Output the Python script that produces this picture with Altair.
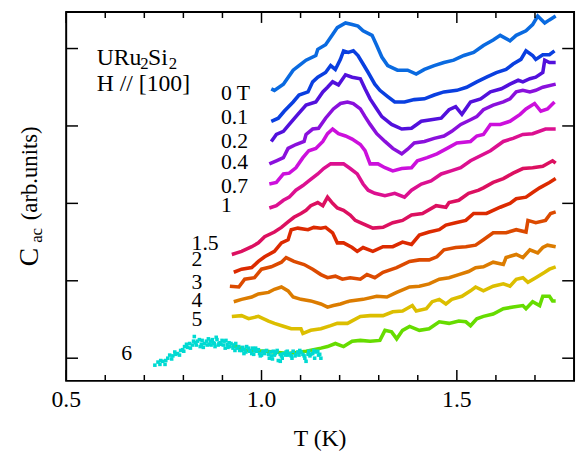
import altair as alt
import pandas as pd

FONT = "'Liberation Serif', 'Times New Roman', Times, serif"

# ---- data: temperature T (K) and C_ac (arb. units, curves offset) ----
T_00 = [1.025,1.033,1.056,1.081,1.096,1.114,1.139,1.144,1.164,1.182,1.194,1.215,1.232,1.247,1.260,1.283,1.295,1.308,1.323,1.348,1.374,1.396,1.417,1.442,1.467,1.492,1.518,1.543,1.568,1.593,1.611,1.636,1.652,1.677,1.694,1.707,1.725,1.737,1.753]
C_00 = [3.48,3.46,3.54,3.72,3.78,3.85,3.91,3.99,4.05,4.18,4.27,4.33,4.31,4.29,4.23,4.17,4.04,3.89,3.78,3.72,3.72,3.67,3.73,3.78,3.82,3.85,3.91,3.95,4.04,4.11,4.17,4.10,4.17,4.23,4.31,4.42,4.33,4.37,4.42]

T_01 = [1.025,1.043,1.058,1.081,1.096,1.119,1.131,1.144,1.164,1.177,1.189,1.202,1.210,1.222,1.235,1.247,1.260,1.273,1.290,1.303,1.323,1.341,1.366,1.391,1.417,1.442,1.467,1.500,1.525,1.551,1.576,1.601,1.626,1.644,1.664,1.677,1.694,1.702,1.720,1.737,1.750]
C_01 = [3.06,3.10,3.19,3.31,3.40,3.44,3.57,3.63,3.69,3.78,3.73,3.86,3.97,3.95,3.97,3.91,3.80,3.69,3.54,3.46,3.38,3.31,3.31,3.34,3.35,3.40,3.44,3.46,3.50,3.57,3.63,3.69,3.73,3.80,3.86,3.97,3.91,3.86,3.92,3.92,3.97]

T_02 = [1.025,1.038,1.056,1.071,1.093,1.114,1.139,1.157,1.169,1.182,1.197,1.215,1.232,1.253,1.265,1.278,1.295,1.308,1.333,1.359,1.384,1.409,1.434,1.460,1.480,1.497,1.513,1.535,1.561,1.586,1.614,1.636,1.657,1.669,1.687,1.702,1.720,1.725,1.737,1.753]
C_02 = [2.80,2.89,2.93,3.02,3.15,3.27,3.31,3.44,3.50,3.57,3.53,3.66,3.63,3.61,3.48,3.35,3.22,3.12,3.02,2.96,2.97,3.06,3.08,3.10,3.21,3.25,3.15,3.31,3.35,3.44,3.48,3.54,3.59,3.57,3.61,3.63,3.69,3.85,3.82,3.82]

T_04 = [1.020,1.038,1.056,1.068,1.088,1.109,1.114,1.131,1.146,1.164,1.184,1.202,1.220,1.235,1.253,1.265,1.278,1.295,1.316,1.336,1.359,1.374,1.391,1.417,1.442,1.467,1.487,1.510,1.535,1.551,1.568,1.593,1.619,1.636,1.652,1.669,1.687,1.702,1.720,1.753]
C_04 = [2.51,2.55,2.59,2.71,2.76,2.80,2.89,2.96,2.97,3.10,3.22,3.29,3.31,3.29,3.22,3.12,3.02,2.90,2.80,2.71,2.64,2.70,2.78,2.80,2.84,2.87,2.93,3.02,3.08,3.12,3.21,3.27,3.31,3.35,3.44,3.46,3.44,3.46,3.50,3.54]

T_07 = [1.020,1.038,1.056,1.071,1.088,1.106,1.121,1.139,1.157,1.169,1.182,1.197,1.215,1.232,1.253,1.265,1.278,1.298,1.316,1.336,1.359,1.384,1.399,1.424,1.449,1.475,1.500,1.535,1.551,1.568,1.586,1.611,1.636,1.662,1.677,1.699,1.715,1.732,1.750]
C_07 = [2.25,2.27,2.38,2.39,2.46,2.59,2.68,2.71,2.80,2.90,2.96,2.90,2.87,2.83,2.76,2.68,2.51,2.51,2.46,2.42,2.45,2.46,2.55,2.59,2.64,2.71,2.78,2.80,2.87,2.89,3.02,3.02,3.06,3.15,3.22,3.29,3.19,3.22,3.31]

T_10 = [1.020,1.038,1.056,1.071,1.088,1.106,1.121,1.144,1.159,1.177,1.194,1.210,1.227,1.245,1.260,1.273,1.290,1.316,1.341,1.366,1.384,1.409,1.434,1.460,1.485,1.510,1.535,1.586,1.619,1.644,1.669,1.694,1.727,1.753]
C_10 = [1.94,1.97,2.04,2.08,2.17,2.23,2.29,2.38,2.45,2.51,2.51,2.51,2.45,2.38,2.25,2.17,2.13,2.10,2.13,2.08,2.17,2.25,2.29,2.38,2.42,2.46,2.55,2.68,2.80,2.84,2.89,2.90,2.96,2.96]

T_15 = [0.924,0.949,0.975,0.992,1.008,1.033,1.051,1.068,1.083,1.101,1.114,1.126,1.144,1.157,1.169,1.182,1.194,1.210,1.227,1.240,1.253,1.285,1.311,1.336,1.361,1.384,1.412,1.447,1.472,1.480,1.505,1.530,1.556,1.568,1.593,1.619,1.644,1.669,1.694,1.720,1.745,1.753]
C_15 = [1.34,1.38,1.44,1.49,1.57,1.63,1.69,1.76,1.82,1.87,1.91,1.97,2.01,1.97,2.08,2.00,1.94,1.91,1.85,1.78,1.75,1.68,1.69,1.75,1.78,1.85,1.87,1.97,1.95,2.01,2.04,2.13,2.17,2.20,2.27,2.32,2.39,2.45,2.46,2.48,2.55,2.52]

T_20 = [0.929,0.949,0.975,0.992,1.008,1.033,1.051,1.068,1.076,1.093,1.119,1.134,1.152,1.164,1.182,1.194,1.210,1.232,1.245,1.260,1.285,1.311,1.336,1.361,1.384,1.404,1.429,1.455,1.472,1.497,1.523,1.543,1.576,1.611,1.636,1.652,1.677,1.694,1.712,1.737,1.753]
C_20 = [1.11,1.15,1.17,1.25,1.31,1.38,1.49,1.53,1.66,1.68,1.66,1.69,1.68,1.69,1.62,1.49,1.49,1.43,1.38,1.43,1.38,1.44,1.44,1.50,1.47,1.59,1.63,1.66,1.72,1.75,1.78,1.87,1.87,1.95,2.00,2.06,2.08,2.14,2.20,2.27,2.32]

T_30 = [0.919,0.942,0.957,0.982,1.000,1.025,1.051,1.063,1.083,1.109,1.131,1.152,1.169,1.189,1.207,1.227,1.253,1.270,1.290,1.311,1.346,1.379,1.404,1.429,1.449,1.467,1.497,1.523,1.548,1.568,1.593,1.626,1.652,1.677,1.682,1.702,1.727,1.740,1.753]
C_30 = [0.93,0.92,1.02,1.04,1.15,1.18,1.24,1.30,1.25,1.21,1.15,1.08,1.04,1.06,1.02,1.04,1.02,1.08,1.04,1.11,1.17,1.25,1.27,1.27,1.31,1.40,1.43,1.44,1.46,1.53,1.62,1.62,1.66,1.63,1.78,1.75,1.78,1.87,1.89]

T_40 = [0.929,0.949,0.975,0.992,1.018,1.033,1.051,1.068,1.081,1.101,1.126,1.152,1.169,1.184,1.202,1.220,1.227,1.260,1.295,1.321,1.346,1.379,1.404,1.429,1.455,1.480,1.505,1.530,1.548,1.568,1.593,1.619,1.626,1.652,1.669,1.687,1.707,1.720,1.732,1.753]
C_40 = [0.73,0.76,0.79,0.83,0.85,0.89,0.92,0.87,0.79,0.76,0.74,0.70,0.66,0.68,0.70,0.73,0.74,0.76,0.80,0.79,0.85,0.92,0.93,0.96,1.02,1.04,1.08,1.12,1.17,1.18,1.24,1.21,1.30,1.34,1.30,1.40,1.36,1.43,1.46,1.44]

T_50 = [0.924,0.949,0.967,0.992,1.018,1.033,1.058,1.076,1.101,1.106,1.126,1.152,1.177,1.194,1.220,1.253,1.278,1.311,1.336,1.361,1.386,1.396,1.422,1.437,1.455,1.472,1.487,1.513,1.535,1.548,1.568,1.593,1.619,1.636,1.652,1.669,1.682,1.702,1.725,1.737,1.753]
C_50 = [0.54,0.55,0.51,0.54,0.48,0.45,0.41,0.38,0.38,0.32,0.36,0.38,0.42,0.45,0.45,0.54,0.55,0.55,0.60,0.61,0.68,0.61,0.64,0.73,0.76,0.70,0.76,0.80,0.87,0.92,0.87,0.93,0.96,0.93,1.02,1.04,0.98,1.04,1.11,1.15,1.18]

T_60 = [0.924,0.962,1.013,1.068,1.114,1.152,1.169,1.189,1.210,1.232,1.253,1.278,1.303,1.316,1.333,1.346,1.361,1.379,1.404,1.429,1.455,1.480,1.505,1.523,1.535,1.551,1.568,1.593,1.619,1.644,1.669,1.677,1.694,1.712,1.720,1.737,1.745,1.753]
C_60 = [0.17,0.10,0.09,0.06,0.09,0.13,0.15,0.19,0.15,0.22,0.23,0.22,0.23,0.36,0.34,0.25,0.36,0.41,0.36,0.38,0.47,0.45,0.48,0.47,0.42,0.51,0.54,0.57,0.64,0.66,0.68,0.64,0.73,0.68,0.80,0.80,0.74,0.74]

# 6 T, second data set (scatter), two sweeps
T_6S_A = [0.727,0.735,0.740,0.747,0.755,0.760,0.765,0.773,0.780,0.785,0.793,0.798,0.803,0.811,0.816,0.823,0.828,0.831,0.836,0.843,0.848,0.854,0.861,0.866,0.869,0.874,0.879,0.881,0.886,0.891,0.894,0.899,0.902,0.904,0.907,0.912,0.917,0.919,0.927,0.929,0.932,0.937,0.942,0.949,0.955,0.957,0.962,0.970,0.975,0.977,0.982,0.987,0.995,1.000,1.005,1.008,1.018,1.020,1.025,1.030,1.033,1.038,1.043,1.048,1.051,1.056,1.063,1.068,1.076,1.081,1.088,1.096,1.101,1.109,1.114,1.121,1.126,1.134,1.139,1.146,1.152]
C_6S_A = [-0.09,-0.05,-0.08,-0.04,-0.03,0.00,0.04,0.03,0.05,0.06,0.10,0.11,0.15,0.14,0.19,0.17,0.28,0.20,0.22,0.15,0.23,0.19,0.17,0.18,0.22,0.24,0.19,0.15,0.24,0.19,0.20,0.23,0.17,0.22,0.13,0.18,0.20,0.15,0.13,0.17,0.10,0.13,0.15,0.10,0.06,0.11,0.15,0.09,0.06,0.13,0.10,0.09,0.06,0.04,0.09,0.06,0.05,0.00,0.03,0.09,0.04,0.08,-0.03,-0.04,0.03,0.06,0.08,0.04,0.03,0.09,0.05,0.04,0.08,0.03,-0.04,0.09,0.05,0.10,0.08,0.04,0.00]
T_6S_B = [0.742,0.753,0.770,0.778,0.790,0.801,0.808,0.818,0.826,0.833,0.841,0.846,0.851,0.859,0.864,0.871,0.876,0.884,0.889,0.896,0.909,0.914,0.922,0.934,0.944,0.952,0.960,0.967,0.972,0.980,0.985,0.992,0.997,1.003,1.013,1.023,1.028,1.035,1.040,1.048,1.053,1.061,1.066,1.073,1.078,1.086,1.093,1.098,1.106,1.111,1.119,1.124,1.131,1.136,1.144,1.149]
C_6S_B = [-0.03,-0.08,-0.01,0.08,0.04,0.09,0.18,0.13,0.22,0.17,0.24,0.18,0.14,0.22,0.25,0.17,0.20,0.27,0.17,0.18,0.23,0.14,0.19,0.19,0.10,0.14,0.08,0.13,0.10,0.05,0.13,0.11,0.03,0.08,0.10,0.08,-0.01,0.06,0.10,0.05,0.00,0.04,0.09,0.06,0.00,0.03,0.08,0.10,0.05,0.00,0.05,0.03,0.06,0.00,0.09,0.05]

FIELDS = ["0 T", "0.1", "0.2", "0.4", "0.7", "1", "1.5", "2", "3", "4", "5", "6"]
COLORS = ["#0a6ae0", "#0a3fe0", "#5210dc", "#8a10dc", "#cc10dc", "#dc1090",
          "#dc1060", "#dc2a00", "#dc4a00", "#dc7c00", "#dcbe00", "#66dc00"]
SCATTER_COLOR = "#00dad2"
T_LISTS = [T_00, T_01, T_02, T_04, T_07, T_10, T_15, T_20, T_30, T_40, T_50, T_60]
C_LISTS = [C_00, C_01, C_02, C_04, C_07, C_10, C_15, C_20, C_30, C_40, C_50, C_60]

# curve labels (text, T, C of baseline-left corner)
LABEL_TEXT = ["0 T", "0.1", "0.2", "0.4", "0.7", "1", "1.5", "2", "3", "4", "5", "6"]
LABEL_T = [0.896, 0.896, 0.896, 0.896, 0.896, 0.896, 0.821, 0.821, 0.821, 0.821, 0.821, 0.641]
LABEL_C = [3.34, 3.02, 2.71, 2.45, 2.14, 1.885, 1.40, 1.185, 0.89, 0.66, 0.41, -0.025]

X_MAJOR = [0.5, 1.0, 1.5]
X_MINOR = [0.6, 0.7, 0.8, 0.9, 1.1, 1.2, 1.3, 1.4, 1.6, 1.7]
X_LABELS = ["0.5", "1.0", "1.5"]
Y_TICKS = [0, 1, 2, 3, 4]

W, H = 515, 374

rows = []
for name, ts, cs in zip(FIELDS, T_LISTS, C_LISTS):
    for t, c in zip(ts, cs):
        rows.append({"field": name, "T": t, "C": c})
df = pd.DataFrame(rows)
scat = pd.DataFrame({"T": T_6S_A + T_6S_B, "C": C_6S_A + C_6S_B})
labels = pd.DataFrame({"s": LABEL_TEXT, "T": LABEL_T, "C": LABEL_C})

xs = alt.Scale(domain=[0.5, 1.8], nice=False, zero=False)
ys = alt.Scale(domain=[-0.293, 4.471], nice=False, zero=False)

lines = alt.Chart(df).mark_line(strokeWidth=3.6, clip=True, strokeJoin="miter").encode(
    x=alt.X("T:Q", scale=xs, axis=None),
    y=alt.Y("C:Q", scale=ys, axis=None),
    color=alt.Color("field:N", scale=alt.Scale(domain=FIELDS, range=COLORS), legend=None),
    detail="field:N",
)

points = alt.Chart(scat).mark_square(size=13, color=SCATTER_COLOR, opacity=1).encode(
    x=alt.X("T:Q", scale=xs, axis=None),
    y=alt.Y("C:Q", scale=ys, axis=None),
)

curve_labels = alt.Chart(labels).mark_text(
    font=FONT, fontSize=22, align="left", baseline="alphabetic", color="black"
).encode(
    x=alt.X("T:Q", scale=xs, axis=None),
    y=alt.Y("C:Q", scale=ys, axis=None),
    text="s:N",
)

rk = dict(color="black", strokeWidth=1.5)
xmaj = pd.DataFrame({"t": X_MAJOR})
xmin = pd.DataFrame({"t": X_MINOR})
ytk = pd.DataFrame({"c": Y_TICKS})
xe = alt.X("t:Q", scale=xs, axis=None)
ye = alt.Y("c:Q", scale=ys, axis=None)
ticks = [
    alt.Chart(xmaj).mark_rule(**rk).encode(x=xe, y=alt.value(H), y2=alt.value(H - 11)),
    alt.Chart(xmaj).mark_rule(**rk).encode(x=xe, y=alt.value(0), y2=alt.value(11)),
    alt.Chart(xmin).mark_rule(**rk).encode(x=xe, y=alt.value(H), y2=alt.value(H - 6)),
    alt.Chart(xmin).mark_rule(**rk).encode(x=xe, y=alt.value(0), y2=alt.value(6)),
    alt.Chart(ytk).mark_rule(**rk).encode(y=ye, x=alt.value(0), x2=alt.value(12)),
    alt.Chart(ytk).mark_rule(**rk).encode(y=ye, x=alt.value(W), x2=alt.value(W - 12)),
]

xlab = alt.Chart(pd.DataFrame({"t": X_MAJOR, "s": X_LABELS})).mark_text(
    font=FONT, fontSize=24, align="center", baseline="alphabetic", color="black"
).encode(x=xe, y=alt.value(400), text="s:N")


def note(txt, x, y, size=24, angle=0, align="left"):
    return alt.Chart(pd.DataFrame({"s": [txt]})).mark_text(
        font=FONT, fontSize=size, align=align, baseline="alphabetic",
        angle=angle, color="black"
    ).encode(x=alt.value(x), y=alt.value(y), text="s:N")


notes = [
    note("T (K)", W / 2, 440, align="center"),
    note("URu", 31, 54),
    note("2", 75, 58, size=17),
    note("Si", 83, 54),
    note("2", 104, 58, size=17),
    note("H // [100]", 31, 80),
    note("C", -29, 248.5, size=28, angle=270, align="center"),
    note("ac", -25, 226.5, size=17, angle=270, align="center"),
    note("(arb.units)", -30, 163.5, size=23, angle=270, align="center"),
]

chart = alt.layer(lines, points, curve_labels, xlab, *ticks, *notes).properties(
    width=W, height=H,
    padding={"left": 59, "top": 1, "right": 3, "bottom": 70},
    autosize=alt.AutoSizeParams(type="none"),
).configure_view(stroke="black", strokeWidth=2)

chart.save("out.html", embed_options={"renderer": "svg", "actions": False})
